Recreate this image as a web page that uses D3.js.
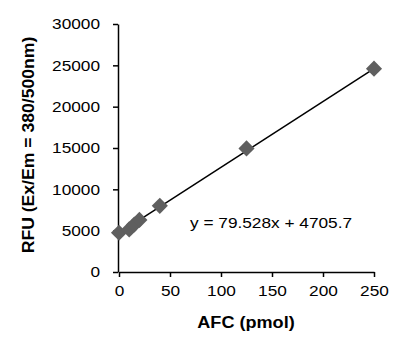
<!DOCTYPE html>
<html><head><meta charset="utf-8">
<script src="https://cdn.jsdelivr.net/npm/d3@7"></script>
<style>body{margin:0;background:#fff}svg{display:block}text{font-family:"Liberation Sans",Arial,sans-serif}</style>
</head><body>
<svg id="c" width="415" height="344"></svg>
<script>
const afc = [0, 10, 15, 20, 40, 125, 250];
const rfu = [4750, 5150, 5750, 6300, 8000, 14950, 24600];
const slope = 79.528, intercept = 4705.7;
const xTicks = [0, 50, 100, 150, 200, 250];
const yTicks = [0, 5000, 10000, 15000, 20000, 25000, 30000];
const eqLabel = "y = 79.528x + 4705.7";
const xTitle = "AFC (pmol)";
const yTitle = "RFU (Ex/Em = 380/500nm)";

const svg = d3.select("#c");
const x = d3.scaleLinear().domain([0, 250]).range([119, 374]);
const y = d3.scaleLinear().domain([0, 30000]).range([272, 24]);

function stretch(sel, f) {
  sel.each(function(){ const l = this.getComputedTextLength(); this.setAttribute("textLength", l*f); this.setAttribute("lengthAdjust","spacingAndGlyphs"); });
}

const gx = svg.append("g").attr("transform", "translate(0,272)")
  .call(d3.axisBottom(x).tickValues(xTicks).tickFormat(d3.format("d")).tickSize(5).tickPadding(8).tickSizeOuter(0));
const gy = svg.append("g").attr("transform", "translate(118,0)")
  .call(d3.axisLeft(y).tickValues(yTicks).tickFormat(d3.format("d")).tickSize(5).tickPadding(13).tickSizeOuter(0));
[gx, gy].forEach(g => {
  g.select(".domain").attr("stroke", "#000").attr("stroke-width", 1.5);
  g.selectAll(".tick line").attr("stroke", "#000").attr("stroke-width", 1.5);
  g.selectAll(".tick text").attr("font-size", 15).attr("fill", "#000")
   .style("font-family", '"Liberation Sans", Arial, sans-serif');
});
stretch(gx.selectAll(".tick text"), 1.15);
stretch(gy.selectAll(".tick text"), 1.15);

// regression line
const line = d3.line().x(d => x(d)).y(d => y(slope*d + intercept));
svg.append("path").datum([0, 250]).attr("d", line).attr("stroke", "#000").attr("stroke-width", 1.5).attr("fill", "none");

// markers
svg.append("g").selectAll("path").data(afc.map((a,i)=>[a, rfu[i]])).join("path")
  .attr("d", d3.symbol(d3.symbolSquare, 130))
  .attr("transform", d => `translate(${x(d[0])},${y(d[1])}) rotate(45)`)
  .attr("fill", "#5f5f5f");

// equation
const eq = svg.append("text").attr("x", 190).attr("y", 228).attr("font-size", 15).attr("fill", "#000").text(eqLabel);
stretch(eq, 1.15);

// titles
const xt = svg.append("text").attr("x", 246).attr("y", 328).attr("text-anchor", "middle")
  .attr("font-size", 16).attr("font-weight", "bold").text(xTitle);
stretch(xt, 1.13);
const yt = svg.append("text").attr("transform", "translate(34,145) rotate(-90)").attr("text-anchor", "middle")
  .attr("font-size", 16).attr("font-weight", "bold").text(yTitle);
stretch(yt, 1.1);
</script>
</body></html>
